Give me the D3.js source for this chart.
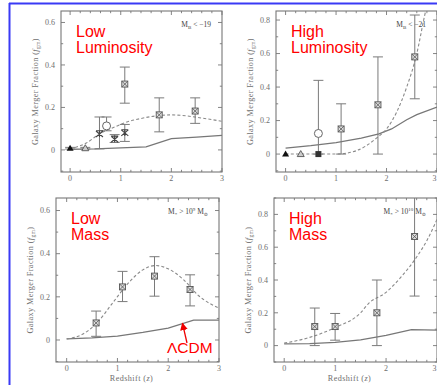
<!DOCTYPE html>
<html><head><meta charset="utf-8">
<script src="https://cdn.jsdelivr.net/npm/d3@7"></script>
<style>html,body{margin:0;padding:0;background:#fff;}svg{display:block;}</style>
</head><body>
<svg id="c" width="437" height="385"></svg>
<script>
// ---------- DATA ----------
const xTicks = [0, 1, 2, 3];
const yTicksLow = [0, 0.2, 0.4, 0.6];
const yTicksHigh = [0, 0.2, 0.4, 0.6, 0.8];

// Low luminosity (M_B < -19)
const lowLumPoints = [
  {z:0.00, f:0.008, lo:0.004, hi:0.012, m:"triF"},
  {z:0.30, f:0.008, lo:0.004, hi:0.012, m:"triO"},
  {z:0.58, f:0.075, lo:0.005, hi:0.155, m:"star"},
  {z:0.72, f:0.113, lo:0.09,  hi:0.155, m:"circ"},
  {z:0.88, f:0.050, lo:0.035, hi:0.072, m:"star"},
  {z:1.08, f:0.080, lo:0.040, hi:0.120, m:"star"},
  {z:1.08, f:0.310, lo:0.220, hi:0.390, m:"boxx"},
  {z:1.76, f:0.165, lo:0.085, hi:0.245, m:"boxx"},
  {z:2.47, f:0.183, lo:0.125, hi:0.245, m:"boxx"}
];
const lowLumFit = [[0,0.005],[0.3,0.03],[0.6,0.078],[0.9,0.11],[1.1,0.13],[1.4,0.148],[1.7,0.16],[2.0,0.165],[2.3,0.16],[2.6,0.15],[3.0,0.135]];
const lowLumLCDM = [[0,0.003],[0.5,0.005],[1.0,0.01],[1.5,0.014],[2.0,0.053],[2.5,0.06],[3.0,0.068]];

// High luminosity (M_B < -21)
const highLumPoints = [
  {z:0.00, f:0.000, lo:0, hi:0, m:"triF"},
  {z:0.30, f:0.000, lo:0, hi:0, m:"triO"},
  {z:0.65, f:0.000, lo:0, hi:0, m:"sqF"},
  {z:0.65, f:0.123, lo:0.000, hi:0.440, m:"circ"},
  {z:1.10, f:0.150, lo:0.000, hi:0.300, m:"boxx"},
  {z:1.83, f:0.294, lo:0.000, hi:0.580, m:"boxx"},
  {z:2.56, f:0.580, lo:0.330, hi:0.830, m:"boxx"}
];
const highLumFit = [[0,0],[1.0,0],[1.2,0.005],[1.4,0.02],[1.6,0.05],[1.8,0.095],[2.0,0.15],[2.2,0.25],[2.4,0.4],[2.6,0.6],[2.75,0.82],[2.85,0.95]];
const highLumLCDM = [[0,0.036],[0.5,0.05],[1.0,0.068],[1.5,0.095],[1.85,0.12],[2.1,0.15],[2.4,0.205],[2.6,0.235],[3.0,0.28]];

// Low mass (M* > 10^9 Msun)
const lowMassPoints = [
  {z:0.58, f:0.079, lo:0.017, hi:0.134, m:"boxx"},
  {z:1.10, f:0.246, lo:0.178, hi:0.318, m:"boxx"},
  {z:1.73, f:0.296, lo:0.203, hi:0.386, m:"boxx"},
  {z:2.43, f:0.234, lo:0.158, hi:0.302, m:"boxx"}
];
const lowMassFit = [[0,0.005],[0.3,0.025],[0.6,0.08],[0.9,0.17],[1.2,0.26],[1.5,0.325],[1.75,0.345],[2.0,0.33],[2.3,0.28],[2.6,0.205],[3.0,0.148]];
const lowMassLCDM = [[0,0.005],[0.5,0.01],[1.0,0.018],[1.5,0.035],[2.0,0.055],[2.5,0.092],[3.0,0.092]];

// High mass (M* > 10^10 Msun)
const highMassPoints = [
  {z:0.60, f:0.116, lo:0.000, hi:0.229, m:"boxx"},
  {z:1.00, f:0.116, lo:0.033, hi:0.196, m:"boxx"},
  {z:1.82, f:0.200, lo:0.000, hi:0.400, m:"boxx"},
  {z:2.56, f:0.665, lo:0.302, hi:0.960, m:"boxx"}
];
const highMassFit = [[0,0.015],[0.5,0.05],[1.0,0.11],[1.5,0.2],[1.65,0.255],[2.0,0.325],[2.3,0.42],[2.6,0.54],[2.8,0.64],[3.0,0.77]];
const highMassLCDM = [[0,0.01],[0.5,0.012],[1.0,0.02],[1.5,0.035],[2.0,0.062],[2.5,0.097],[3.0,0.094]];

const panelTitles = [["Low","Luminosity"],["High","Luminosity"],["Low","Mass"],["High","Mass"]];

// ---------- DRAW ----------
const svg = d3.select("#c");
const W = 437;
const serif = "'Liberation Serif','DejaVu Serif',serif";
const sans = "'Liberation Sans',Arial,sans-serif";
const gray = "#6e6e6e";

const panels = [
  {x0:61, x1:222, y0:11, y1:172, xd:[-0.18,3.0], yd:[-0.104,0.654], yt:yTicksLow,
   pts:lowLumPoints, fit:lowLumFit, lcdm:lowLumLCDM, title:panelTitles[0], ann:"lum", annTxt:"−19", xlab:false},
  {x0:276, x1:437, y0:11, y1:172, xd:[-0.19,3.0], yd:[-0.107,0.854], yt:yTicksHigh,
   pts:highLumPoints, fit:highLumFit, lcdm:highLumLCDM, title:panelTitles[1], ann:"lum", annTxt:"−21", xlab:false},
  {x0:56, x1:219, y0:198, y1:362, xd:[-0.21,3.0], yd:[-0.102,0.658], yt:yTicksLow,
   pts:lowMassPoints, fit:lowMassFit, lcdm:lowMassLCDM, title:panelTitles[2], ann:"mass", annTxt:"9", xlab:true},
  {x0:274, x1:437, y0:198, y1:362, xd:[-0.2,3.0], yd:[-0.1,0.9], yt:yTicksHigh,
   pts:highMassPoints, fit:highMassFit, lcdm:highMassLCDM, title:panelTitles[3], ann:"mass", annTxt:"10", xlab:true}
];

const defs = svg.append("defs");
defs.append("marker").attr("id","arr").attr("viewBox","0 0 10 10").attr("refX",9).attr("refY",5)
  .attr("markerWidth",6).attr("markerHeight",6).attr("orient","auto")
  .append("path").attr("d","M0,0L10,5L0,10z").attr("fill","#e00");

panels.forEach((p, i) => {
  const x = d3.scaleLinear().domain(p.xd).range([p.x0, p.x1]);
  const y = d3.scaleLinear().domain(p.yd).range([p.y1, p.y0]);
  p.x = x; p.y = y;
  const g = svg.append("g");
  const cid = "clip" + i;
  defs.append("clipPath").attr("id", cid).append("rect")
    .attr("x", p.x0).attr("y", p.y0).attr("width", p.x1 - p.x0).attr("height", p.y1 - p.y0);

  // frame
  g.append("rect").attr("x", p.x0).attr("y", p.y0).attr("width", p.x1 - p.x0).attr("height", p.y1 - p.y0)
    .attr("fill", "none").attr("stroke", "#777").attr("stroke-width", 1.1);

  // ticks (inward, mirrored)
  const tk = g.append("g").attr("stroke", "#777").attr("stroke-width", 0.9);
  const xMinor = d3.range(0, 3.001, 0.2);
  xMinor.forEach(v => {
    const major = Math.abs(v - Math.round(v)) < 1e-6;
    const L = major ? 4 : 2.2;
    const px = x(v);
    tk.append("line").attr("x1", px).attr("x2", px).attr("y1", p.y1).attr("y2", p.y1 - L);
    tk.append("line").attr("x1", px).attr("x2", px).attr("y1", p.y0).attr("y2", p.y0 + L);
  });
  const yMinor = d3.range(-0.1, p.yd[1] + 0.001, 0.1);
  yMinor.forEach(v => {
    const major = Math.abs(v / 0.2 - Math.round(v / 0.2)) < 1e-6;
    const L = major ? 4 : 2.2;
    const py = y(v);
    tk.append("line").attr("x1", p.x0).attr("x2", p.x0 + L).attr("y1", py).attr("y2", py);
    tk.append("line").attr("x1", p.x1).attr("x2", p.x1 - L).attr("y1", py).attr("y2", py);
  });

  // tick labels
  g.selectAll(".xl").data(xTicks).enter().append("text")
    .attr("x", d => Math.min(x(d), W - 0.5)).attr("y", p.y1 + 8.5)
    .attr("text-anchor", d => x(d) > W - 3 ? "end" : "middle")
    .attr("font-family", serif).attr("font-size", 8).attr("fill", gray).text(d => d);
  g.selectAll(".yl").data(p.yt).enter().append("text")
    .attr("x", p.x0 - 6).attr("y", d => y(d) + 2.8).attr("text-anchor", "end")
    .attr("font-family", serif).attr("font-size", 8).attr("fill", gray).text(d => d === 0 ? "0" : d.toFixed(1));

  // y axis title
  const yt = g.append("text").attr("transform", `translate(${p.x0 - 23},${(p.y0 + p.y1) / 2}) rotate(-90)`)
    .attr("text-anchor", "middle").attr("font-family", serif).attr("font-size", 8.2).attr("fill", gray)
    .attr("letter-spacing", 0.4);
  yt.append("tspan").text("Galaxy Merger Fraction (");
  yt.append("tspan").attr("font-style", "italic").text("f");
  yt.append("tspan").attr("font-size", 5.5).attr("dy", 2).text("gm");
  yt.append("tspan").attr("dy", -2).text(")");

  if (p.xlab) {
    const xt = g.append("text").attr("x", (p.x0 + p.x1) / 2 - 6).attr("y", p.y1 + 18.5).attr("text-anchor", "middle")
      .attr("font-family", serif).attr("font-size", 8.2).attr("fill", gray).attr("letter-spacing", 0.4);
    xt.append("tspan").text("Redshift (");
    xt.append("tspan").attr("font-style", "italic").text("z");
    xt.append("tspan").text(")");
  }

  // annotation in top right
  const an = g.append("text").attr("x", p.x1 - 11).attr("y", p.y0 + 16).attr("text-anchor", "end")
    .attr("font-family", serif).attr("font-size", 7.5).attr("fill", "#444");
  if (p.ann === "lum") {
    an.append("tspan").text("M");
    an.append("tspan").attr("font-size", 5).attr("dy", 1.5).text("B");
    an.append("tspan").attr("dy", -1.5).text(" < " + p.annTxt);
  } else {
    an.append("tspan").text("M");
    an.append("tspan").attr("font-size", 5).attr("dy", 1.5).text("*");
    an.append("tspan").attr("dy", -1.5).text(" > 10");
    an.append("tspan").attr("font-size", 5).attr("dy", -3).text(p.annTxt);
    an.append("tspan").attr("dy", 3).text(" M");
    an.append("tspan").attr("font-size", 5).attr("dy", 1.5).text("⊙");
  }

  // curves
  const cg = g.append("g").attr("clip-path", `url(#${cid})`);
  cg.append("path").datum(p.lcdm)
    .attr("d", d3.line().x(d => x(d[0])).y(d => y(d[1])).curve(d3.curveLinear))
    .attr("fill", "none").attr("stroke", "#777").attr("stroke-width", 1.3);
  cg.append("path").datum(p.fit)
    .attr("d", d3.line().x(d => x(d[0])).y(d => y(d[1])).curve(d3.curveMonotoneX))
    .attr("fill", "none").attr("stroke", "#8a8a8a").attr("stroke-width", 1.1).attr("stroke-dasharray", "3,2.2");

  // error bars
  const eg = cg.append("g").attr("stroke", "#7a7a7a").attr("stroke-width", 1);
  p.pts.forEach(d => {
    if (d.hi - d.lo <= 0.001) return;
    const px = x(d.z);
    eg.append("line").attr("x1", px).attr("x2", px).attr("y1", y(d.lo)).attr("y2", y(d.hi));
    eg.append("line").attr("x1", px - 5).attr("x2", px + 5).attr("y1", y(d.lo)).attr("y2", y(d.lo));
    eg.append("line").attr("x1", px - 5).attr("x2", px + 5).attr("y1", y(d.hi)).attr("y2", y(d.hi));
  });

  // markers
  const mg = g.append("g");
  p.pts.forEach(d => {
    const px = x(d.z), py = y(d.f);
    const s = mg.append("g").attr("transform", `translate(${px},${py})`);
    const col = "#555";
    if (d.m === "boxx") {
      s.append("rect").attr("x", -3).attr("y", -3).attr("width", 6).attr("height", 6)
        .attr("fill", "#ddd").attr("stroke", col).attr("stroke-width", 0.9);
      s.append("path").attr("d", "M-3,-3L3,3M-3,3L3,-3").attr("stroke", col).attr("stroke-width", 0.8);
    } else if (d.m === "star") {
      s.append("path").attr("d", "M-3.5,-3L3.5,3M-3.5,3L3.5,-3M-3.5,-3.2L3.5,-3.2M0,-3L0,3")
        .attr("stroke", "#444").attr("stroke-width", 1.1).attr("fill", "none");
    } else if (d.m === "circ") {
      s.append("circle").attr("r", 4).attr("fill", "#fff").attr("stroke", "#666").attr("stroke-width", 1);
    } else if (d.m === "triF") {
      s.append("path").attr("d", "M0,-3.5L3.5,2.5L-3.5,2.5Z").attr("fill", "#111");
    } else if (d.m === "triO") {
      s.append("path").attr("d", "M0,-3.5L3.5,2.5L-3.5,2.5Z").attr("fill", "#ccc").attr("stroke", "#555").attr("stroke-width", 0.9);
    } else if (d.m === "sqF") {
      s.append("rect").attr("x", -3).attr("y", -3).attr("width", 6).attr("height", 6).attr("fill", "#333");
    }
  });

  // red title
  const tx = p.x0 + 15;
  g.append("text").attr("x", tx).attr("y", p.y0 + 25.5).attr("font-family", sans).attr("font-size", 16)
    .attr("fill", "#f00").text(p.title[0]);
  g.append("text").attr("x", tx).attr("y", p.y0 + 42).attr("font-family", sans).attr("font-size", 16)
    .attr("fill", "#f00").text(p.title[1]);
});

// ΛCDM label with arrow (bottom-left panel)
const p3 = panels[2];
svg.append("text").attr("x", 167).attr("y", 353).attr("font-family", sans).attr("font-size", 15.5)
  .attr("fill", "#f00").text("ΛCDM");
svg.append("line").attr("x1", 187).attr("y1", 343).attr("x2", p3.x(2.28)).attr("y2", p3.y(0.078))
  .attr("stroke", "#e00").attr("stroke-width", 1.3).attr("marker-end", "url(#arr)");

// blue slide border
svg.append("line").attr("x1", 9.5).attr("x2", 9.5).attr("y1", 3).attr("y2", 385).attr("stroke", "#3a3af5").attr("stroke-width", 2);
svg.append("line").attr("x1", 9).attr("x2", 437).attr("y1", 3.5).attr("y2", 3.5).attr("stroke", "#3a3af5").attr("stroke-width", 2);
</script>
</body></html>
